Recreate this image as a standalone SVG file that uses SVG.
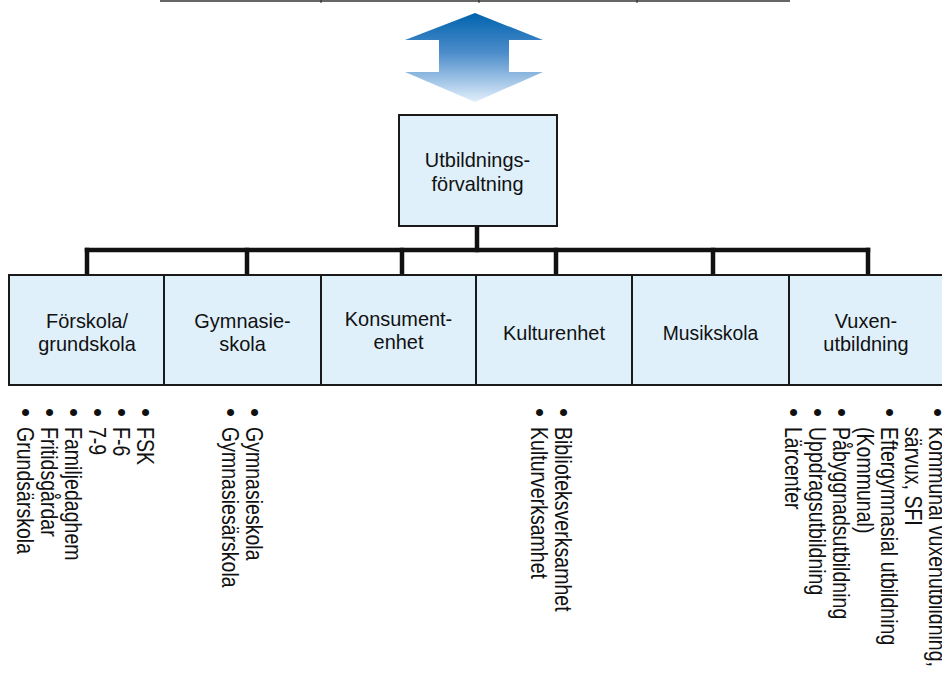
<svg xmlns="http://www.w3.org/2000/svg" width="942" height="673" viewBox="0 0 942 673">
<defs>
<linearGradient id="ag" x1="0" y1="13" x2="0" y2="102" gradientUnits="userSpaceOnUse">
<stop offset="0" stop-color="#0063ad"/>
<stop offset="0.45" stop-color="#4d8dcb"/>
<stop offset="1" stop-color="#e2effb"/>
</linearGradient>
<style>
.box{fill:#dff0fb;stroke:#1a1a1a;stroke-width:2}
.bt{font-family:"Liberation Sans",Arial,sans-serif;font-size:21px;fill:#111;text-anchor:middle}
.lt{font-family:"Liberation Sans",Arial,sans-serif;font-size:23px;fill:#111}
.bu{font-family:"Liberation Sans",Arial,sans-serif;font-size:26px;fill:#111}
.con{stroke:#111;stroke-width:4.5;fill:none;stroke-linecap:square}
</style>
</defs>
<rect width="942" height="673" fill="#fff"/>
<g id="top-edge">
<line x1="160" y1="1" x2="790" y2="1" stroke="#666" stroke-width="2"/>
<line x1="321" y1="0" x2="321" y2="3" stroke="#222" stroke-width="1"/>
<line x1="479" y1="0" x2="479" y2="3" stroke="#222" stroke-width="1"/>
<line x1="637" y1="0" x2="637" y2="3" stroke="#222" stroke-width="1"/>
</g>
<g id="double-arrow">
<polygon points="475,13 543,40 509,40 509,72 543,72 475,102 405,72 439,72 439,40 405,40" fill="url(#ag)"/>
</g>
<g id="connectors">
<line class="con" x1="477" y1="227" x2="477" y2="250"/>
<line class="con" x1="87" y1="250" x2="868" y2="250"/>
<line class="con" x1="87" y1="250" x2="87" y2="274"/>
<line class="con" x1="247" y1="250" x2="247" y2="274"/>
<line class="con" x1="402" y1="250" x2="402" y2="274"/>
<line class="con" x1="556" y1="250" x2="556" y2="274"/>
<line class="con" x1="713" y1="250" x2="713" y2="274"/>
<line class="con" x1="868" y1="250" x2="868" y2="274"/>
</g>
<g id="utbildningsforvaltning">
<rect class="box" x="399" y="115" width="158" height="111"/>
<text class="bt" transform="translate(477.5,167) scale(0.95 1)">Utbildnings-</text>
<text class="bt" transform="translate(477.5,191) scale(0.95 1)">förvaltning</text>
</g>
<g id="forskola">
<rect class="box" x="9" y="275" width="155" height="110"/>
<text class="bt" transform="translate(87,328) scale(0.95 1)">Förskola/</text>
<text class="bt" transform="translate(87,351) scale(0.95 1)">grundskola</text>
</g>
<g id="gymnasieskola">
<rect class="box" x="164" y="275" width="157" height="110"/>
<text class="bt" transform="translate(242.5,328) scale(0.95 1)">Gymnasie-</text>
<text class="bt" transform="translate(242.5,351) scale(0.95 1)">skola</text>
</g>
<g id="konsumentenhet">
<rect class="box" x="321" y="275" width="155" height="110"/>
<text class="bt" transform="translate(398.5,326) scale(0.95 1)">Konsument-</text>
<text class="bt" transform="translate(398.5,349) scale(0.95 1)">enhet</text>
</g>
<g id="kulturenhet">
<rect class="box" x="476" y="275" width="156" height="110"/>
<text class="bt" transform="translate(554,340) scale(0.95 1)">Kulturenhet</text>
</g>
<g id="musikskola">
<rect class="box" x="632" y="275" width="157" height="110"/>
<text class="bt" transform="translate(710.5,340) scale(0.92 1)">Musikskola</text>
</g>
<g id="vuxenutbildning">
<rect class="box" x="789" y="275" width="160" height="110"/>
<text class="bt" transform="translate(866,328) scale(0.95 1)">Vuxen-</text>
<text class="bt" transform="translate(866,351) scale(0.95 1)">utbildning</text>
</g>
<g id="list-forskola">
<text class="bu" transform="translate(137,408) rotate(90)">•</text>
<text class="lt" transform="translate(137,427) rotate(90) scale(0.85 1)">FSK</text>
<text class="bu" transform="translate(113,408) rotate(90)">•</text>
<text class="lt" transform="translate(113,427) rotate(90) scale(0.85 1)">F-6</text>
<text class="bu" transform="translate(89,408) rotate(90)">•</text>
<text class="lt" transform="translate(89,427) rotate(90) scale(0.85 1)">7-9</text>
<text class="bu" transform="translate(65,408) rotate(90)">•</text>
<text class="lt" transform="translate(65,427) rotate(90) scale(0.85 1)">Familjedaghem</text>
<text class="bu" transform="translate(41,408) rotate(90)">•</text>
<text class="lt" transform="translate(41,427) rotate(90) scale(0.85 1)">Fritidsgårdar</text>
<text class="bu" transform="translate(17,408) rotate(90)">•</text>
<text class="lt" transform="translate(17,427) rotate(90) scale(0.85 1)">Grundsärskola</text>
</g>
<g id="list-gymnasie">
<text class="bu" transform="translate(246,408) rotate(90)">•</text>
<text class="lt" transform="translate(246,427) rotate(90) scale(0.85 1)">Gymnasieskola</text>
<text class="bu" transform="translate(222,408) rotate(90)">•</text>
<text class="lt" transform="translate(222,427) rotate(90) scale(0.85 1)">Gymnasiesärskola</text>
</g>
<g id="list-kultur">
<text class="bu" transform="translate(555,408) rotate(90)">•</text>
<text class="lt" transform="translate(555,427) rotate(90) scale(0.85 1)">Biblioteksverksamhet</text>
<text class="bu" transform="translate(531,408) rotate(90)">•</text>
<text class="lt" transform="translate(531,427) rotate(90) scale(0.85 1)">Kulturverksamhet</text>
</g>
<g id="list-vuxen">
<text class="bu" transform="translate(929,408) rotate(90)">•</text>
<text class="lt" transform="translate(929,427) rotate(90) scale(0.85 1)">Kommunal vuxenutbildning,</text>
<text class="lt" transform="translate(905,427) rotate(90) scale(0.85 1)">särvux, SFI</text>
<text class="bu" transform="translate(881,408) rotate(90)">•</text>
<text class="lt" transform="translate(881,427) rotate(90) scale(0.85 1)">Eftergymnasial utbildning</text>
<text class="lt" transform="translate(857,427) rotate(90) scale(0.85 1)">(Kommunal)</text>
<text class="bu" transform="translate(833,408) rotate(90)">•</text>
<text class="lt" transform="translate(833,427) rotate(90) scale(0.85 1)">Påbyggnadsutbildning</text>
<text class="bu" transform="translate(809,408) rotate(90)">•</text>
<text class="lt" transform="translate(809,427) rotate(90) scale(0.85 1)">Uppdragsutbildning</text>
<text class="bu" transform="translate(785,408) rotate(90)">•</text>
<text class="lt" transform="translate(785,427) rotate(90) scale(0.85 1)">Lärcenter</text>
</g>
</svg>
